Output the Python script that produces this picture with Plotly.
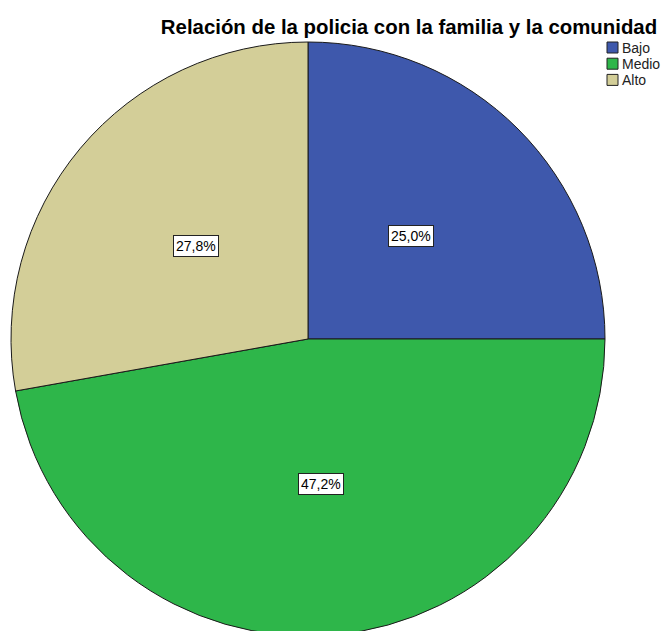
import math
import plotly.graph_objects as go

categories = ["Bajo", "Medio", "Alto"]
values = [25.0, 47.2, 27.8]
value_labels = ["25,0%", "47,2%", "27,8%"]
colors = ["#3e58ac", "#2eb64a", "#d3ce98"]

W, H = 662, 636
ML, MR, MT, MB = 11, 57, 42, 0
plot_w = W - ML - MR
plot_h = H - MT - MB
FONT = "Liberation Sans, Arial, sans-serif"

fig = go.Figure(go.Pie(
    labels=categories,
    values=values,
    sort=False,
    direction="clockwise",
    rotation=0,
    marker=dict(colors=colors, line=dict(color="#1a1a1a", width=1)),
    textinfo="none",
    hoverinfo="label+percent",
    showlegend=False,
))

def px_to_paper(px, py):
    return (px - ML) / plot_w, (H - MB - py) / plot_h

# value labels at slice mid-angles
total = sum(values)
cum = 0.0
radius_px = min(plot_w, plot_h) / 2
annotations = []
for v, lab in zip(values, value_labels):
    mid = (cum + v / 2) / total * 2 * math.pi
    cum += v
    r = 0.49 * radius_px
    dx = r * math.sin(mid) / plot_w
    dy = r * math.cos(mid) / plot_h
    annotations.append(dict(
        x=0.5 + dx, y=0.5 + dy, xref="paper", yref="paper",
        xanchor="center", yanchor="middle",
        text=lab, showarrow=False,
        font=dict(family=FONT, size=14, color="black"),
        bgcolor="white", bordercolor="#222", borderwidth=1, borderpad=2,
    ))

# custom legend
shapes = []
LX, LY0, LSTEP, BOX = 607, 42, 16.2, 11
for i, (cat, col) in enumerate(zip(categories, colors)):
    top = LY0 + i * LSTEP
    x0, y0 = px_to_paper(LX, top + BOX)
    x1, y1 = px_to_paper(LX + BOX, top)
    shapes.append(dict(type="rect", xref="paper", yref="paper",
                       x0=x0, y0=y0, x1=x1, y1=y1,
                       fillcolor=col, line=dict(color="#222", width=1)))
    tx, ty = px_to_paper(LX + BOX + 2, top + BOX / 2)
    annotations.append(dict(
        x=tx, y=ty, xref="paper", yref="paper", xanchor="left", yanchor="middle",
        text=cat, showarrow=False,
        font=dict(family=FONT, size=14, color="#222"),
    ))

fig.update_layout(
    width=W, height=H,
    margin=dict(l=ML, r=MR, t=MT, b=MB),
    paper_bgcolor="white",
    plot_bgcolor="white",
    showlegend=False,
    title=dict(
        text="<b>Relación de la policia con la familia y la comunidad</b>",
        x=409 / W, xanchor="center", xref="container",
        y=1 - 27 / H, yanchor="middle", yref="container",
        font=dict(family=FONT, size=20.4, color="black"),
    ),
    annotations=annotations,
    shapes=shapes,
)

fig.write_html("out.html", config={"displayModeBar": False},
               post_script="document.body.style.margin='0';document.body.style.overflow='hidden';")
